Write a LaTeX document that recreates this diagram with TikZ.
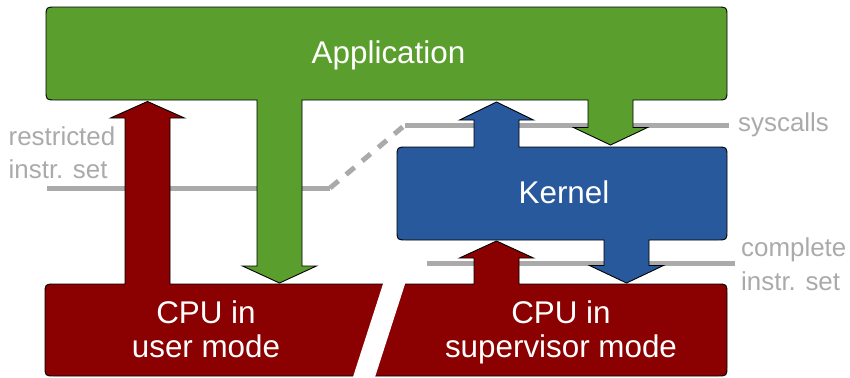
\documentclass[tikz,border=0pt]{standalone}
\usepackage{fontspec}
\setmainfont{Liberation Sans}
\definecolor{appgreen}{RGB}{90,158,45}
\definecolor{cpured}{RGB}{139,0,0}
\definecolor{kernblue}{RGB}{40,89,156}
\definecolor{linegray}{RGB}{170,170,170}
\begin{document}
\begin{tikzpicture}[x=1bp,y=-1bp,
  blockshape/.style={line width=0.9bp, draw=black, line join=miter},
  gline/.style={line width=5bp, draw=linegray},
  bigtxt/.style={text=white, font=\fontsize{31.5}{34}\selectfont, inner sep=0pt, anchor=base},
  graytxt/.style={text=linegray, font=\fontsize{26}{28}\selectfont, inner sep=0pt, anchor=base west}]
\useasboundingbox (0,0) rectangle (850,377);

% gray separator lines
\draw[gline] (47,188) -- (330,188);
\draw[gline, dash pattern=on 11bp off 10bp] (330,188) -- (405,125);
\draw[gline] (405,125) -- (729,125);
\draw[gline] (427,263) -- (735,263);

% Application with its two downward arrows
\draw[blockshape, fill=appgreen]
  (56,7) -- (717,7) .. controls (727,7) .. (727,17) -- (727,90)
  .. controls (727,100) .. (717,100)
  -- (633,100) -- (633,127.5) -- (647.5,127.5) -- (610.5,145) -- (573.5,127.5) -- (588,127.5) -- (588,100)
  -- (302,100) -- (302,266) -- (316.5,266) -- (279.5,283) -- (242.5,266) -- (257,266) -- (257,100)
  -- (56,100) .. controls (46,100) .. (46,90) -- (46,17) .. controls (46,7) .. (56,7) -- cycle;

% Kernel with its up and down arrows
\draw[blockshape, fill=kernblue]
  (407,147) -- (474,147) -- (474,120) -- (459.5,120) -- (496.5,102) -- (533.5,120) -- (519,120) -- (519,147)
  -- (717,147) .. controls (727,147) .. (727,157) -- (727,230) .. controls (727,240) .. (717,240)
  -- (649,240) -- (649,265.5) -- (663.5,265.5) -- (626.5,283) -- (589.5,265.5) -- (604,265.5) -- (604,240)
  -- (407,240) .. controls (397,240) .. (397,230) -- (397,157) .. controls (397,147) .. (407,147) -- cycle;

% CPU (both modes) with upward arrows
\draw[blockshape, fill=cpured]
  (55,284) -- (125,284) -- (125,118) -- (110.5,118) -- (147.5,101.5) -- (184.5,118) -- (170,118) -- (170,284)
  -- (474,284) -- (474,258) -- (459.5,258) -- (496.5,241) -- (533.5,258) -- (519,258) -- (519,284)
  -- (717,284) .. controls (727,284) .. (727,294) -- (727,366) .. controls (727,376) .. (717,376)
  -- (55,376) .. controls (45,376) .. (45,366) -- (45,294) .. controls (45,284) .. (55,284) -- cycle;

% slash separating user and supervisor mode
\coordinate (slashTop) at (395.6,279);
\coordinate (slashBot) at (362.4,382);
\draw[white, line width=21bp] (slashTop) -- (slashBot);

% labels
\node[bigtxt] (app) at (388.5,63) {Application};
\node[bigtxt] (kern) at (564,203) {Kernel};
\node[bigtxt] (cpuUa) at (206,323) {CPU in};
\node[bigtxt] (cpuUb) at (206,357) {user mode};
\node[bigtxt] (cpuSa) at (561,323) {CPU in};
\node[bigtxt] (cpuSb) at (561,357) {supervisor mode};
\node[graytxt] (restrA) at (8.5,145) {restricted};
\node[graytxt] (restrB) at (8.5,178) {instr. set};
\node[graytxt] (sys) at (738,131) {syscalls};
\node[graytxt] (compA) at (741,256) {complete};
\node[graytxt] (compB) at (741,290) {instr. set};
\end{tikzpicture}
\end{document}
